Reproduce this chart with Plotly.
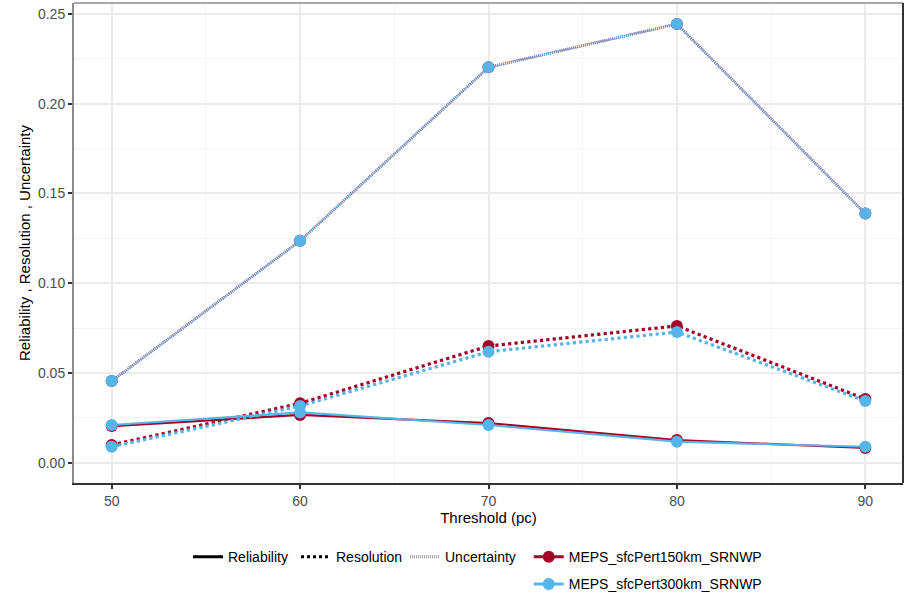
import plotly.graph_objects as go

# Brier score decomposition by threshold for two MEPS perturbation setups
thresholds = [50, 60, 70, 80, 90]
models = ["MEPS_sfcPert150km_SRNWP", "MEPS_sfcPert300km_SRNWP"]
model_colors = {"MEPS_sfcPert150km_SRNWP": "#a50026",
                "MEPS_sfcPert300km_SRNWP": "#56b4e9"}

reliability_150 = [0.0204, 0.0266, 0.0221, 0.0126, 0.0082]
reliability_300 = [0.0210, 0.0280, 0.0210, 0.0117, 0.0089]
resolution_150 = [0.0099, 0.0331, 0.0650, 0.0762, 0.0355]
resolution_300 = [0.0089, 0.0316, 0.0618, 0.0728, 0.0344]
uncertainty_150 = [0.0455, 0.1236, 0.2203, 0.2444, 0.1388]
uncertainty_300 = [0.0455, 0.1236, 0.2203, 0.2444, 0.1388]

components = ["Reliability", "Resolution", "Uncertainty"]
series = {
    ("Reliability", models[0]): reliability_150,
    ("Reliability", models[1]): reliability_300,
    ("Resolution", models[0]): resolution_150,
    ("Resolution", models[1]): resolution_300,
    ("Uncertainty", models[0]): uncertainty_150,
    ("Uncertainty", models[1]): uncertainty_300,
}
line_style = {
    "Reliability": dict(dash="solid", width=2.2),
    "Resolution": dict(dash="dot", width=3.2),
    "Uncertainty": dict(dash="1px,1px", width=2.6),
}

FONT = "Liberation Sans, Arial, Helvetica, sans-serif"

fig = go.Figure()

# lines first, then points on top
for model in models:
    for comp in components:
        fig.add_trace(go.Scatter(
            x=thresholds, y=series[(comp, model)], mode="lines",
            line=dict(color=model_colors[model], **line_style[comp]),
            showlegend=False, hoverinfo="skip"))
for model in models:
    for comp in components:
        fig.add_trace(go.Scatter(
            x=thresholds, y=series[(comp, model)], mode="markers",
            marker=dict(color=model_colors[model], size=12, line=dict(width=0)),
            name=f"{model} {comp}", showlegend=False))

# linetype legend: one small legend box per entry keeps the row compact
legend_key = {"Reliability": dict(color="black", dash="solid", width=3),
              "Resolution": dict(color="black", dash="dot", width=3),
              "Uncertainty": dict(color="#9a9a9a", dash="1px,1px", width=3)}
legend_box = {"Reliability": "legend", "Resolution": "legend3", "Uncertainty": "legend4"}
for comp in components:
    fig.add_trace(go.Scatter(x=[None], y=[None], mode="lines", name=comp,
                             line=legend_key[comp], legend=legend_box[comp]))

# colour legend
for model in models:
    fig.add_trace(go.Scatter(x=[None], y=[None], mode="lines+markers", name=model,
                             line=dict(color=model_colors[model], width=3),
                             marker=dict(color=model_colors[model], size=12),
                             legend="legend2", legendgroup=model))

fig.add_hline(y=0, line=dict(color="#7a7a7a", width=1.5), layer="below")

# panel border: top and right
fig.add_shape(type="line", xref="paper", yref="paper", x0=0, x1=1, y0=1, y1=1,
              line=dict(color="#a8a8a8", width=2))
fig.add_shape(type="line", xref="paper", yref="paper", x0=1, x1=1, y0=0, y1=1,
              line=dict(color="#333333", width=2))

legend_common = dict(xref="container", yref="container", xanchor="left", yanchor="top",
                     y=0.089, font=dict(size=14), bgcolor="rgba(0,0,0,0)", itemwidth=30)

fig.update_layout(
    width=906, height=594,
    margin=dict(l=74, r=3, t=3, b=111, autoexpand=False),
    paper_bgcolor="white", plot_bgcolor="white",
    font=dict(family=FONT, size=14, color="black"),
    xaxis=dict(
        range=[48, 92], tickvals=[50, 60, 70, 80, 90],
        showgrid=True, gridcolor="#ebebeb", gridwidth=2,
        minor=dict(dtick=5, tick0=45, showgrid=True, gridcolor="#f4f4f4", gridwidth=1, ticklen=0),
        showline=True, linecolor="#333333", linewidth=2,
        ticks="outside", ticklen=4, tickcolor="#333333", tickwidth=1.5,
        tickfont=dict(size=14, color="#4d4d4d"),
        zeroline=False,
        title=dict(text="Threshold (pc)", font=dict(size=15), standoff=0),
    ),
    yaxis=dict(
        range=[-0.0113, 0.2561], tickvals=[0, 0.05, 0.10, 0.15, 0.20, 0.25],
        tickformat=".2f",
        showgrid=True, gridcolor="#ebebeb", gridwidth=2,
        minor=dict(dtick=0.025, tick0=0.025, showgrid=True, gridcolor="#f4f4f4", gridwidth=1, ticklen=0),
        showline=True, linecolor="#8c8c8c", linewidth=2,
        ticks="outside", ticklen=4, tickcolor="#333333", tickwidth=1.5,
        tickfont=dict(size=14, color="#4d4d4d"),
        zeroline=False,
        title=dict(text="Reliability , Resolution , Uncertainty", font=dict(size=15), standoff=4),
    ),
    legend=dict(orientation="h", x=188 / 906, **legend_common),
    legend3=dict(orientation="h", x=296 / 906, **legend_common),
    legend4=dict(orientation="h", x=405 / 906, **legend_common),
    legend2=dict(orientation="v", x=0.5836, traceorder="grouped", tracegroupgap=6,
                 **legend_common),
)

fig.write_html("out.html")
